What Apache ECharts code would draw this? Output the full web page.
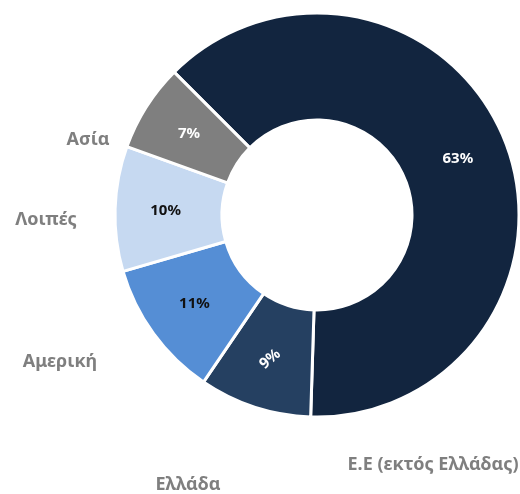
<!DOCTYPE html>
<html><head><meta charset="utf-8">
<script src="https://cdn.jsdelivr.net/npm/echarts@6/dist/echarts.min.js"></script>
<style>html,body{margin:0;padding:0;background:#fff}#c{width:520px;height:494px}</style>
</head><body><div id="c"></div>
<script>
var categories = ['Ε.Ε (εκτός Ελλάδας)', 'Ελλάδα', 'Αμερική', 'Λοιπές', 'Ασία'];
var values = [63, 9, 11, 10, 7];
var colors = ['#12253F', '#254061', '#558ED5', '#C6D9F1', '#7F7F7F'];
var pctColors = ['#ffffff', '#ffffff', '#111111', '#111111', '#ffffff'];
var pctRotate = [0, 40, 0, 0, 0];
var namePos = [[433, 465], [188, 485], [60, 362], [46, 220], [88, 140]];

var chart = echarts.init(document.getElementById('c'), null, {renderer: 'canvas'});
var font = '"Noto Sans", sans-serif';
var pctData = categories.map(function (n, i) {
  return {
    name: n, value: values[i],
    itemStyle: {color: colors[i]},
    label: {color: pctColors[i], rotate: pctRotate[i]}
  };
});
var nameData = categories.map(function (n, i) {
  return {name: n, value: values[i]};
});
chart.setOption({
  animation: false,
  series: [{
    type: 'pie',
    center: [317, 215],
    radius: [95, 202],
    startAngle: 135,
    clockwise: true,
    avoidLabelOverlap: false,
    itemStyle: {borderColor: '#ffffff', borderWidth: 3},
    label: {
      show: true, position: 'inside',
      formatter: '{c}%',
      fontFamily: font, fontWeight: 'bold', fontSize: 15
    },
    labelLine: {show: false},
    data: pctData
  }, {
    type: 'pie',
    center: [317, 215],
    radius: [95, 202],
    startAngle: 135,
    clockwise: true,
    silent: true,
    avoidLabelOverlap: false,
    itemStyle: {color: 'rgba(0,0,0,0)', borderWidth: 0},
    label: {
      show: true, position: 'outside',
      formatter: '{b}',
      color: '#7F7F7F',
      fontFamily: font, fontWeight: 'bold', fontSize: 18
    },
    labelLine: {show: false},
    labelLayout: function (p) {
      var pos = namePos[p.dataIndex];
      return {x: pos[0], y: pos[1], align: 'center', verticalAlign: 'middle'};
    },
    data: nameData
  }]
});
</script></body></html>
